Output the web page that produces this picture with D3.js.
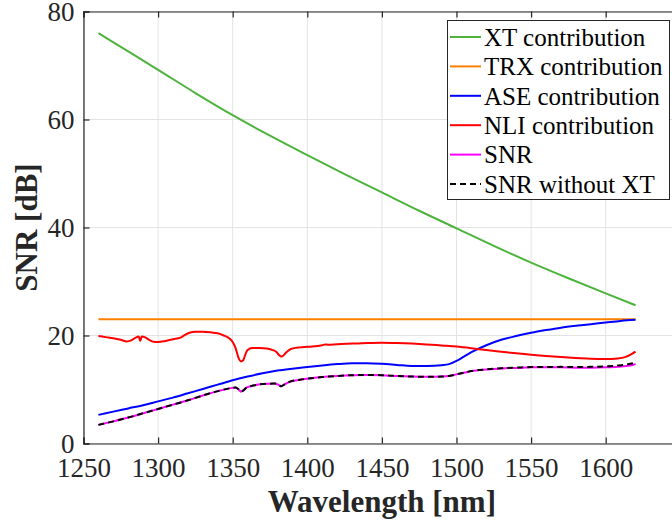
<!DOCTYPE html>
<html>
<head>
<meta charset="utf-8">
<script src="https://cdn.jsdelivr.net/npm/d3@7"></script>
<style>
  html, body { margin: 0; padding: 0; background: #fff; }
  svg { display: block; }
  svg text { font-family: 'Liberation Serif', Tinos, 'DejaVu Serif', serif !important; }
</style>
</head>
<body>
<svg id="chart" width="672" height="528"></svg>
<script>
// Wavelength grids (nm) and SNR contributions (dB)
const xtWl   = [1260, 1280, 1300, 1325, 1350, 1375, 1400, 1425, 1450, 1475, 1500, 1525, 1550, 1575, 1600, 1620];
const xtSnr  = [76.0, 72.6, 69.2, 64.9, 60.8, 57.0, 53.4, 49.9, 46.5, 43.1, 39.85, 36.6, 33.5, 30.6, 27.8, 25.6];

const trxWl  = [1260, 1620];
const trxSnr = [23.0, 23.0];

const aseWl  = [1260, 1270, 1280, 1290, 1300, 1310, 1320, 1330, 1340, 1350, 1360, 1370, 1380, 1390, 1400,
                1410, 1420, 1430, 1440, 1450, 1460, 1470, 1480, 1490, 1495, 1500, 1505, 1510, 1520, 1530,
                1540, 1550, 1560, 1570, 1580, 1590, 1600, 1610, 1620];
const aseSnr = [5.3, 5.9, 6.5, 7.1, 7.8, 8.5, 9.3, 10.1, 10.9, 11.7, 12.4, 13.0, 13.5, 13.85, 14.15,
                14.45, 14.7, 14.85, 14.85, 14.75, 14.55, 14.35, 14.35, 14.5, 14.7, 15.3, 16.1, 16.9, 18.2, 19.2,
                19.9, 20.5, 21.0, 21.45, 21.8, 22.1, 22.4, 22.7, 22.9];

const nliWl  = [1260, 1265, 1270, 1275, 1279, 1282, 1285, 1287, 1288, 1289, 1291, 1294, 1297, 1300, 1305,
                1310, 1315, 1318, 1321, 1325, 1330, 1335, 1340, 1344, 1347, 1350, 1352, 1354, 1355.5, 1357,
                1358.5, 1360, 1363, 1368, 1373, 1377, 1379.5, 1381, 1382.5, 1384, 1386, 1389, 1395, 1400, 1405,
                1410, 1412, 1414, 1420, 1430, 1440, 1450, 1460, 1470, 1480, 1490, 1500, 1510, 1520, 1530,
                1540, 1550, 1560, 1570, 1580, 1590, 1600, 1608, 1613, 1617, 1620];
const nliSnr = [19.9, 19.7, 19.5, 19.2, 18.9, 19.1, 19.6, 19.8, 19.0, 19.8, 19.7, 19.2, 18.85, 18.8, 19.0,
                19.3, 19.6, 20.1, 20.5, 20.7, 20.7, 20.6, 20.4, 20.0, 19.6, 18.8, 17.6, 15.8, 15.2, 15.4,
                16.5, 17.3, 17.7, 17.7, 17.6, 17.3, 16.9, 16.4, 16.1, 16.3, 16.9, 17.5, 17.8, 17.9, 18.0,
                18.2, 18.35, 18.3, 18.4, 18.5, 18.6, 18.65, 18.6, 18.5, 18.35, 18.15, 17.95, 17.65, 17.3, 17.0,
                16.7, 16.45, 16.2, 16.0, 15.85, 15.7, 15.65, 15.75, 16.0, 16.5, 17.0];

const snrWl  = [1260, 1270, 1280, 1290, 1300, 1310, 1320, 1330, 1340, 1350, 1352, 1354, 1355.5, 1357, 1359,
                1362, 1370, 1378, 1380.5, 1382.5, 1384.5, 1388, 1395, 1400, 1410, 1420, 1430, 1440, 1450, 1460,
                1470, 1480, 1490, 1495, 1500, 1505, 1510, 1520, 1530, 1540, 1550, 1560, 1570, 1580, 1590,
                1600, 1608, 1614, 1618, 1620];
const snrTotal = [3.45, 4.1, 4.8, 5.6, 6.4, 7.2, 8.0, 8.9, 9.7, 10.3, 10.35, 10.0, 9.6, 9.8, 10.3,
                  10.6, 11.0, 11.1, 10.9, 10.6, 10.9, 11.4, 11.8, 12.0, 12.3, 12.5, 12.65, 12.7, 12.65, 12.5,
                  12.4, 12.35, 12.4, 12.5, 12.8, 13.1, 13.4, 13.7, 13.9, 14.0, 14.1, 14.1, 14.1, 14.05, 14.05,
                  14.1, 14.2, 14.35, 14.55, 14.75];
const snrNoXt  = [3.45, 4.1, 4.8, 5.6, 6.4, 7.2, 8.0, 8.9, 9.7, 10.3, 10.35, 10.0, 9.6, 9.8, 10.3,
                  10.6, 11.0, 11.1, 10.9, 10.6, 10.9, 11.4, 11.8, 12.0, 12.3, 12.5, 12.65, 12.7, 12.65, 12.5,
                  12.4, 12.35, 12.4, 12.51, 12.81, 13.12, 13.42, 13.73, 13.94, 14.05, 14.15, 14.17, 14.19, 14.16, 14.19,
                  14.29, 14.43, 14.62, 14.86, 15.1];

const xTicks = [1250, 1300, 1350, 1400, 1450, 1500, 1550, 1600, 1650];
const xTickLabels = ["1250", "1300", "1350", "1400", "1450", "1500", "1550", "1600", ""];
const yTicks = [0, 20, 40, 60, 80];

const seriesNames = ["XT contribution", "TRX contribution", "ASE contribution", "NLI contribution", "SNR", "SNR without XT"];

const FONT = "'Liberation Serif', Tinos, 'DejaVu Serif', serif";

// Series table built from the arrays above
const series = [
  { name: seriesNames[0], wl: xtWl,  v: xtSnr,    color: "#4db33d", dash: null },
  { name: seriesNames[1], wl: trxWl, v: trxSnr,   color: "#ff8000", dash: null },
  { name: seriesNames[2], wl: aseWl, v: aseSnr,   color: "#0000ff", dash: null },
  { name: seriesNames[3], wl: nliWl, v: nliSnr,   color: "#ff0000", dash: null },
  { name: seriesNames[4], wl: snrWl, v: snrTotal, color: "#ff00ff", dash: null },
  { name: seriesNames[5], wl: snrWl, v: snrNoXt,  color: "#000000", dash: "6,4" }
];

const svg = d3.select("#chart").attr("font-family", FONT);
const W = 672, H = 528;
svg.append("rect").attr("width", W).attr("height", H).attr("fill", "#fff");

const m = { left: 83.5, top: 11.5, bottom: 443.5 };
const x = d3.scaleLinear().domain([1250, 1650]).range([m.left, m.left + 8 * 74.6]);
const y = d3.scaleLinear().domain([0, 80]).range([m.bottom, m.top]);

const axisColor = "#262626";

// grid
const grid = svg.append("g");
grid.selectAll("line.gx").data(xTicks).join("line")
  .attr("x1", d => x(d)).attr("x2", d => x(d))
  .attr("y1", m.top).attr("y2", m.bottom)
  .attr("stroke", "#e3e3e3").attr("stroke-width", 1);
grid.selectAll("line.gy").data(yTicks).join("line")
  .attr("x1", m.left).attr("x2", x(1650))
  .attr("y1", d => y(d)).attr("y2", d => y(d))
  .attr("stroke", "#e3e3e3").attr("stroke-width", 1);

// data lines
const line = d3.line().curve(d3.curveMonotoneX);
const plot = svg.append("g");
series.forEach(s => {
  const pts = s.wl.map((w, i) => [x(w), y(s.v[i])]);
  plot.append("path")
    .attr("d", line(pts))
    .attr("fill", "none")
    .attr("stroke", s.color)
    .attr("stroke-width", 2)
    .attr("stroke-dasharray", s.dash);
});

// axes (ticks drawn inward)
const bottomAxis = d3.axisBottom(x).tickValues(xTicks).tickSize(-6).tickPadding(14)
  .tickFormat((d) => xTickLabels[xTicks.indexOf(d)]);
const gB = svg.append("g").attr("transform", `translate(0,${m.bottom})`).call(bottomAxis);
const topAxis = d3.axisTop(x).tickValues(xTicks).tickSize(-6).tickFormat("");
const gT = svg.append("g").attr("transform", `translate(0,${m.top})`).call(topAxis);
const leftAxis = d3.axisLeft(y).tickValues(yTicks).tickSize(-6).tickPadding(9).tickFormat(d3.format("d"));
const gL = svg.append("g").attr("transform", `translate(${m.left},0)`).call(leftAxis);

[gB, gT, gL].forEach(g => {
  g.attr("font-family", FONT).attr("font-size", 27);
  g.select(".domain").attr("stroke", axisColor).attr("stroke-width", 1.2);
  g.selectAll(".tick line").attr("stroke", axisColor).attr("stroke-width", 1.2);
  g.selectAll(".tick text").attr("fill", axisColor);
});
gB.selectAll(".tick text").attr("dy", "0.71em");
gL.selectAll(".tick text").attr("dy", "0.34em");

// axis titles
svg.append("text")
  .attr("x", x(1450)).attr("y", 512)
  .attr("text-anchor", "middle")
  .attr("fill", axisColor)
  .attr("font-family", FONT)
  .attr("font-size", 31).attr("font-weight", "bold")
  .text("Wavelength [nm]");
svg.append("text")
  .attr("transform", `translate(37,${(m.top + m.bottom) / 2}) rotate(-90)`)
  .attr("text-anchor", "middle")
  .attr("fill", axisColor)
  .attr("font-family", FONT)
  .attr("font-size", 31).attr("font-weight", "bold")
  .text("SNR [dB]");

// legend
const lg = svg.append("g").attr("font-family", FONT).attr("font-size", 25);
lg.append("rect")
  .attr("x", 447.5).attr("y", 20.5).attr("width", 222).attr("height", 179)
  .attr("fill", "#fff").attr("stroke", axisColor).attr("stroke-width", 1);
series.forEach((s, i) => {
  const cy = 37 + i * 29.4;
  lg.append("line")
    .attr("x1", 450).attr("x2", 481).attr("y1", cy).attr("y2", cy)
    .attr("stroke", s.color).attr("stroke-width", 2)
    .attr("stroke-dasharray", s.dash);
  lg.append("text")
    .attr("x", 484).attr("y", cy).attr("dy", "0.35em")
    .attr("fill", "#000")
    .text(s.name);
});
</script>
</body>
</html>
